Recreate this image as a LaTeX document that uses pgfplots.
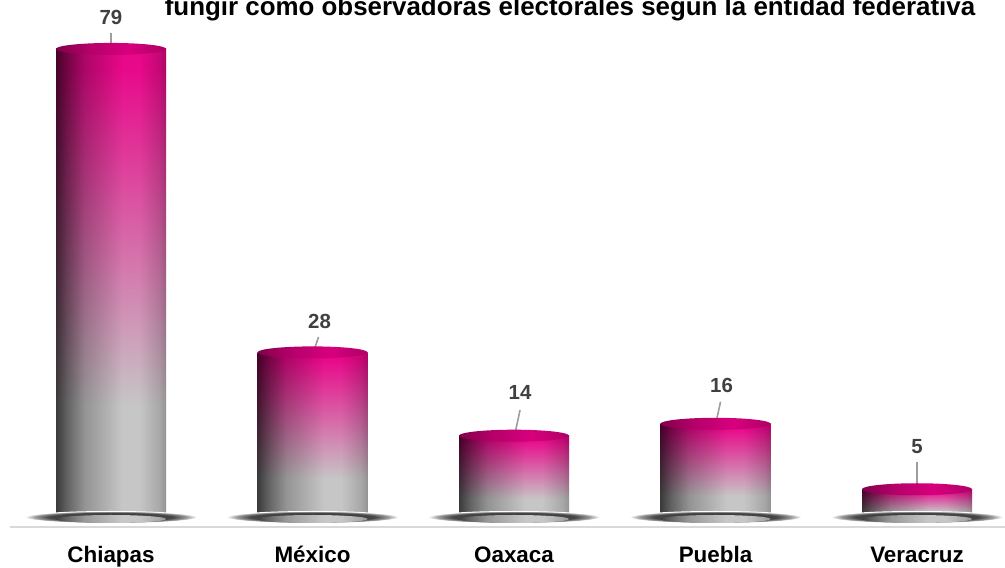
\documentclass[border=0pt]{standalone}
\usepackage{fontspec}
\setmainfont{Liberation Sans}
\usepackage{pgfplots}
\usepackage{pgfplotstable}
\pgfplotsset{compat=1.18}

\definecolor{barpink}{HTML}{E8088A}
\definecolor{barsilver}{HTML}{C6C6C6}
\definecolor{labgray}{HTML}{404040}

% cylinder body, top pink to silver at the bottom
\pgfdeclareverticalshading{barv}{100bp}{color(0bp)=(barsilver); color(37bp)=(barsilver); color(73bp)=(barpink); color(100bp)=(barpink)}
% light on the round side, multiplied over the body
\pgfdeclarehorizontalshading{cylh}{100bp}{color(0bp)=(black!70); color(25bp)=(black!70); color(30bp)=(black!50); color(38bp)=(black!25); color(55bp)=(white); color(63bp)=(white); color(72bp)=(black!15); color(75bp)=(black!25); color(100bp)=(black!25)}
\pgfdeclarehorizontalshading{capsh}{100bp}{color(0bp)=(rgb,255:red,130;green,0;blue,75); color(25bp)=(rgb,255:red,130;green,0;blue,75); color(40bp)=(rgb,255:red,180;green,0;blue,105); color(58bp)=(rgb,255:red,215;green,0;blue,125); color(75bp)=(rgb,255:red,175;green,0;blue,102); color(100bp)=(rgb,255:red,175;green,0;blue,102)}
\pgfdeclarehorizontalshading{botsh}{100bp}{color(0bp)=(black!75); color(25bp)=(black!75); color(30bp)=(black!60); color(38bp)=(black!40); color(55bp)=(black!22); color(63bp)=(black!22); color(72bp)=(black!34); color(75bp)=(black!42); color(100bp)=(black!42)}
\pgfdeclareradialshading{shadowsh}{\pgfpointorigin}{color(0bp)=(black!85); color(18bp)=(black!72); color(22bp)=(black!40); color(25bp)=(white); color(50bp)=(white)}

\pgfdeclareplotmark{shadowmk}{%
  \pgfpathellipse{\pgfpoint{0bp}{2bp}}{\pgfpoint{86bp}{0bp}}{\pgfpoint{0bp}{6bp}}%
  \pgfshadepath{shadowsh}{0}\pgfusepath{}}
\pgfdeclareplotmark{botmk}{%
  \pgfpathellipse{\pgfpointorigin}{\pgfpoint{55bp}{0bp}}{\pgfpoint{0bp}{4bp}}%
  \pgfshadepath{botsh}{0}\pgfusepath{}}
\pgfdeclareplotmark{capmk}{%
  \pgfpathellipse{\pgfpointorigin}{\pgfpoint{55bp}{0bp}}{\pgfpoint{0bp}{6bp}}%
  \pgfshadepath{capsh}{0}\pgfusepath{}}

\pgfplotsset{
  cylbody/.style={ybar, bar width=110bp, bar shift=0pt, draw=none, shade, shading=barv},
  cylshine/.style={ybar, bar width=110bp, bar shift=0pt, draw=none, shade, shading=cylh, blend mode=multiply},
}

\pgfplotstableread{
x y base
0 79 0
1 28 0
2 14 0
3 16 0
4 5 0
}\bars

\pgfplotstableread{
x y u v
0 78.0 0 3.7
1 27.6 0.03 3.0
2 13.6 0.03 4.7
3 15.8 0.025 3.9
4 4.7 0 4.9
}\lead

\pgfplotstableread{
x y lab
0 84.3 79
1.035 33.2 28
2.03 21.2 14
3.03 22.4 16
4.0 12.15 5
}\labs

\begin{document}
\begin{tikzpicture}
\useasboundingbox (0,0) rectangle (1005bp,568bp);
\begin{axis}[
  at={(10.25bp,41bp)}, anchor=south west,
  x=201.5bp, y=5.95bp,
  xmin=-0.5, xmax=4.437, ymin=-1.345, ymax=87.23,
  axis x line*=bottom, axis y line=none,
  axis line style={-},
  x axis line style={draw=black!15, line width=2bp},
  xtick={0,1,2,3,4},
  xticklabels={Chiapas,México,Oaxaca,Puebla,Veracruz},
  major tick length=0pt,
  xticklabel style={anchor=base, yshift=-35bp, font=\bfseries\fontsize{22.5}{26}\selectfont},
  clip=false,
]
\addplot[only marks, mark=shadowmk] table[x=x, y=base]{\bars};
\addplot[only marks, mark=botmk] table[x=x, y=base]{\bars};
% one plot for each cylinder, so that each has its own shading
\addplot[cylbody] coordinates {(0,79)};
\addplot[cylshine] coordinates {(0,79)};
\addplot[cylbody] coordinates {(1,28)};
\addplot[cylshine] coordinates {(1,28)};
\addplot[cylbody] coordinates {(2,14)};
\addplot[cylshine] coordinates {(2,14)};
\addplot[cylbody] coordinates {(3,16)};
\addplot[cylshine] coordinates {(3,16)};
\addplot[cylbody] coordinates {(4,5)};
\addplot[cylshine] coordinates {(4,5)};
\addplot[only marks, mark=capmk] table[x=x, y=y]{\bars};
\addplot[quiver={u=\thisrow{u}, v=\thisrow{v}}, draw=black!38, line width=1.6bp, -] table[x=x, y=y]{\lead};
\addplot[draw=none, mark=none, nodes near coords, point meta=explicit symbolic,
  every node near coord/.append style={anchor=center, text=labgray, font=\bfseries\fontsize{20.5}{23}\selectfont}]
  table[x=x, y=y, meta=lab]{\labs};
\node[font=\bfseries\fontsize{26}{30}\selectfont, anchor=base, inner sep=0pt] at (axis cs:2.278,84.7)
  {fungir como observadoras electorales según la entidad federativa};
\end{axis}
\end{tikzpicture}
\end{document}
